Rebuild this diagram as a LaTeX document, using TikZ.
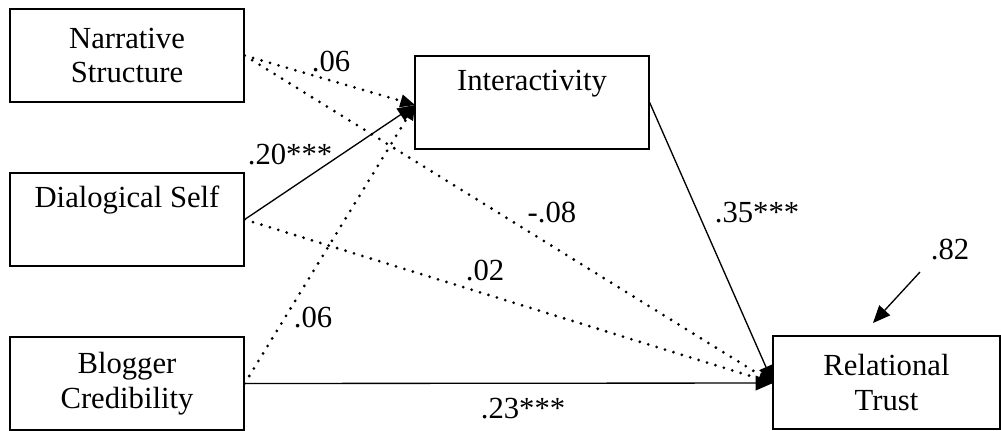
\documentclass[tikz,border=0pt]{standalone}
\usepackage{fontspec}
\setmainfont{Liberation Serif}
\usetikzlibrary{arrows.meta}
\begin{document}
\begin{tikzpicture}[x=0.75pt,y=-0.75pt,
  every node/.style={font=\fontsize{23}{26}\selectfont},
  box/.style={draw,line width=1pt,minimum width=175.5pt,minimum height=69.75pt,align=center,inner sep=0pt},
  solidarrow/.style={line width=1pt,-{Triangle[length=13pt,width=11pt]}},
  dotarrow/.style={line width=2.3pt,line cap=round,dash pattern=on 0pt off 6.6pt,-{Triangle[length=11pt,width=10pt,line width=0pt]}},
  coef/.style={inner sep=0pt}
]
\useasboundingbox (0,0) rectangle (1001,430);
\node[box] (ns) at (127,55.5) {Narrative\\Structure};
\node[box] (ia) at (532,102.5) {Interactivity\\\strut};
\node[box] (ds) at (127,219.5) {Dialogical Self\\\strut};
\node[box] (bc) at (127,383.5) {Blogger\\Credibility};
\node[box,minimum width=170.25pt] (rt) at (886.5,382.5) {Relational\\Trust};
\coordinate (ia-in) at (415,105);
\coordinate (rt-in) at (773,383);
% paths to Interactivity
\draw[dotarrow] (ns.east) -- (ia-in);
\draw[solidarrow] (ds.east) -- (ia-in);
\draw[dotarrow] (bc.east) -- (ia-in);
% paths to Relational Trust
\draw[dotarrow] (ns.east) -- (rt-in);
\draw[dotarrow] (ds.east) -- (rt-in);
\draw[solidarrow] (bc.east) -- (rt-in);
\draw[solidarrow] (ia.east) -- (rt-in);
% error term
\coordinate (err) at (920,272);
\coordinate (errtip) at (873,323);
\draw[solidarrow] (err) -- (errtip);
% coefficients
\node[coef] (c1) at (331,62) {.06};
\node[coef] (c2) at (290,155) {.20***};
\node[coef] (c3) at (552,213) {-.08};
\node[coef] (c4) at (757,213) {.35***};
\node[coef] (c5) at (485,271) {.02};
\node[coef] (c6) at (313,318) {.06};
\node[coef] (c7) at (523,409) {.23***};
\node[coef] (c8) at (950,250) {.82};
\end{tikzpicture}
\end{document}
